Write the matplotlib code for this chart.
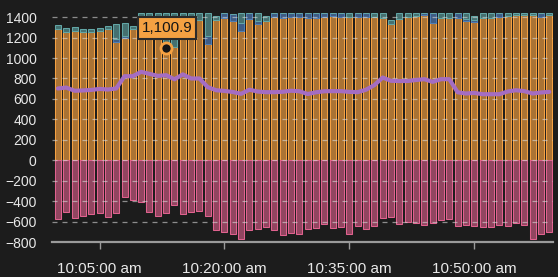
import matplotlib
matplotlib.use("Agg")
import matplotlib.pyplot as plt
import numpy as np

#%% data (one bar per minute, 10:00 - 10:59)

minutes = np.arange(60)  # minutes after 10:00

orange = [1280, 1256, 1266, 1253, 1253, 1263, 1279, 1152, 1191, 1279,
          1340, 1390, 1385, 1101, 1110, 1390, 1390, 1370, 1140, 1370,
          1387, 1361, 1263, 1380, 1331, 1364, 1397, 1393, 1397, 1397,
          1393, 1393, 1403, 1410, 1397, 1397, 1397, 1397, 1397, 1387,
          1331, 1380, 1397, 1410, 1420, 1338, 1387, 1387, 1387, 1361,
          1350, 1395, 1395, 1403, 1410, 1420, 1420, 1425, 1405, 1420]

blue = [0, 0, 0, 0, 0, 0, 0, 30, 22, 0,
        0, 0, 0, 0, 0, 0, 0, 0, 80, 0,
        50, 70, 80, 60, 30, 0, 40, 45, 40, 40,
        45, 45, 35, 30, 40, 0, 40, 40, 0, 0,
        0, 0, 0, 0, 20, 100, 0, 0, 50, 20,
        20, 0, 0, 35, 0, 0, 0, 0, 35, 0]

teal = [42, 33, 33, 26, 29, 26, 33, 150, 125, 33,
        100, 50, 55, 340, 330, 50, 50, 70, 220, 40,
        0, 0, 100, 0, 80, 46, 0, 0, 0, 0,
        0, 0, 0, 0, 0, 40, 0, 0, 40, 50,
        40, 60, 40, 30, 0, 0, 50, 50, 0, 60,
        40, 45, 45, 0, 30, 20, 20, 15, 0, 20]

pink = [-578, -506, -565, -542, -525, -512, -558, -516, -359, -389,
        -408, -509, -548, -519, -434, -525, -506, -499, -541, -682,
        -705, -718, -767, -678, -669, -653, -678, -727, -715, -718,
        -669, -666, -627, -659, -653, -724, -646, -676, -643, -565,
        -555, -620, -604, -614, -636, -614, -587, -578, -646, -630,
        -643, -653, -653, -636, -643, -610, -630, -767, -718, -700]

purple = [702, 711, 680, 683, 688, 698, 692, 702, 822, 822,
          865, 845, 825, 832, 792, 840, 800, 800, 715, 685,
          678, 668, 650, 690, 672, 666, 666, 670, 680, 675,
          648, 665, 675, 676, 676, 669, 666, 690, 735, 809,
          777, 775, 775, 785, 793, 767, 793, 793, 665, 653,
          659, 646, 646, 646, 672, 685, 676, 653, 663, 669]

tick_pos = [5, 20, 35, 50]
tick_labels = ["10:05:00 am", "10:20:00 am", "10:35:00 am", "10:50:00 am"]

hover_idx = 13
hover_val = 1100.9

#%% plot

plt.rcParams['font.family'] = ['Liberation Sans', 'DejaVu Sans']
bg = '#1c1c1c'

fig = plt.figure(figsize=(5.58, 2.77), dpi=100, facecolor=bg)
ax = fig.add_axes([0.093, 0.126, 0.898, 0.827], facecolor=bg)

w = 0.72
orange = np.array(orange)
blue = np.array(blue)
teal = np.array(teal)

ax.bar(minutes, orange, w, color=(0.96, 0.63, 0.26, 0.66), edgecolor='#f5a142', lw=0.75, zorder=2)
ax.bar(minutes, blue, w, bottom=orange, color=(0.30, 0.47, 0.70, 0.7), edgecolor='#4f7fb8', lw=0.75, zorder=2)
ax.bar(minutes, teal, w, bottom=orange + blue, color=(0.36, 0.62, 0.62, 0.65), edgecolor='#62a6a6', lw=0.75, zorder=2)
ax.bar(minutes, pink, w, color=(0.88, 0.38, 0.56, 0.6), edgecolor='#e0628f', lw=0.75, zorder=2)

ax.plot(minutes, purple, color='#a46dc2', lw=3, zorder=4, solid_capstyle='round')

# hover marker + tooltip
ax.plot(hover_idx, hover_val, 'o', ms=8, mfc='#151515', mec='#f5a142', mew=2, zorder=6)
ax.annotate(f"{hover_val:,.1f}", (hover_idx, hover_val), xytext=(0.5, 14),
            textcoords='offset points', ha='center', va='center', fontsize=11,
            color='#151515', zorder=7,
            bbox=dict(boxstyle='square,pad=0.25', fc='#f5a142', ec='#2a2a2a', lw=1.5))

ax.set_xlim(-0.72, 59.45)
ax.set_ylim(-800, 1440)
ax.set_yticks(np.arange(-800, 1401, 200))
ax.set_xticks(tick_pos)
ax.set_xticklabels(tick_labels)

ax.grid(axis='y', color='#d8d8d8', ls=(0, (4, 4)), lw=0.9, alpha=0.6, zorder=3)
ax.set_axisbelow(False)
ax.grid(axis='x', visible=False)

for s in ['top', 'right', 'left']:
    ax.spines[s].set_visible(False)
ax.spines['bottom'].set_color('#9a9a9a')
ax.spines['bottom'].set_linewidth(1.6)
ax.spines['bottom'].set_zorder(5)

ax.tick_params(axis='y', length=0, pad=11, labelsize=10, labelcolor='#e8e8e8')
ax.tick_params(axis='x', length=5, width=1, color='#9a9a9a', pad=9,
               labelsize=11, labelcolor='#e8e8e8')

fig.savefig('out.png', dpi=100, facecolor=bg)
